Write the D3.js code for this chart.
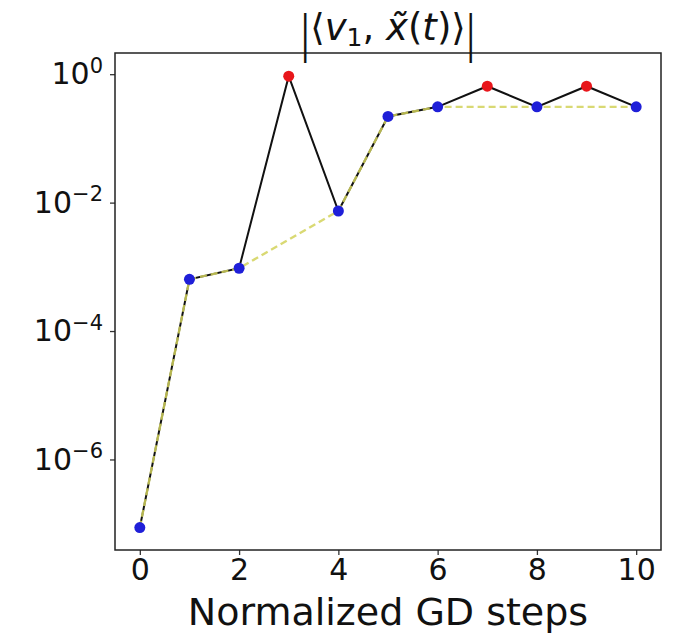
<!DOCTYPE html>
<html>
<head>
<meta charset="utf-8">
<script src="https://cdn.jsdelivr.net/npm/d3@7"></script>
<style>
  body { margin: 0; background: #fff; }
  text { font-family: "DejaVu Sans", sans-serif; fill: #111; }
</style>
</head>
<body>
<svg width="680" height="637"></svg>
<script>
// steps and |<v1, x~(t)>| values
var steps = [0, 1, 2, 3, 4, 5, 6, 7, 8, 9, 10];
var values = [8.7e-8, 6.4e-4, 9.5e-4, 0.93, 7.4e-3, 0.22, 0.31, 0.65, 0.31, 0.65, 0.31];
var markerColors = ["blue", "blue", "blue", "red", "blue", "blue", "blue", "red", "blue", "red", "blue"];
// dashed line goes through the blue points only
var dashedSteps = [0, 1, 2, 4, 5, 6, 8, 10];
var xTicks = [0, 2, 4, 6, 8, 10];
var yTicks = [1e0, 1e-2, 1e-4, 1e-6];

var svg = d3.select("svg"),
    margin = {top: 53, right: 19, bottom: 87, left: 115},
    width = +svg.attr("width") - margin.left - margin.right,
    height = +svg.attr("height") - margin.top - margin.bottom;

var x = d3.scaleLinear().domain([-0.5, 10.5]).range([0, width]);
var y = d3.scaleLog().domain([Math.pow(10, -7.41), Math.pow(10, 0.33)]).range([height, 0]);

var g = svg.append("g")
    .attr("transform", "translate(" + margin.left + "," + margin.top + ")");

// x axis
var xAxis = g.append("g")
    .attr("transform", "translate(0," + height + ")")
    .call(d3.axisBottom(x).tickValues(xTicks).tickSize(5).tickPadding(4).tickFormat(d3.format("d")));
xAxis.selectAll("text").style("font-size", "30px").attr("dy", "0.71em");

// y axis
var yAxis = g.append("g")
    .call(d3.axisLeft(y).tickValues(yTicks).tickSize(5).tickPadding(8).tickFormat(""));
yAxis.selectAll(".tick").each(function (d) {
    var t = d3.select(this).append("text")
        .attr("x", -12)
        .attr("dy", "0.32em")
        .attr("text-anchor", "end")
        .style("font-size", "30px");
    t.append("tspan").text("10");
    var e = Math.round(Math.log10(d));
    t.append("tspan").attr("dy", "-0.55em").style("font-size", "21px")
        .text(e === 0 ? "0" : "\u2212" + Math.abs(e));
});

svg.selectAll(".domain").remove();
svg.selectAll(".tick line").attr("stroke", "#333").attr("stroke-width", 1.3);

// frame
g.append("rect")
    .attr("width", width).attr("height", height)
    .attr("fill", "none").attr("stroke", "#222").attr("stroke-width", 1.5);

// black solid line through all points
var line = d3.line()
    .x(function (d) { return x(d); })
    .y(function (d) { return y(values[d]); });

g.append("path")
    .datum(steps)
    .attr("fill", "none")
    .attr("stroke", "#111")
    .attr("stroke-width", 2)
    .attr("d", line);

// yellow dashed line
g.append("path")
    .datum(dashedSteps)
    .attr("fill", "none")
    .attr("stroke", "rgb(210,210,90)")
    .attr("stroke-opacity", 0.85)
    .attr("stroke-width", 2.4)
    .attr("stroke-dasharray", "7,4")
    .attr("d", line);

g.selectAll(".pt")
    .data(steps)
    .enter().append("circle")
    .attr("class", "pt")
    .attr("cx", function (d) { return x(d); })
    .attr("cy", function (d) { return y(values[d]); })
    .attr("r", 5.5)
    .attr("fill", function (d) { return markerColors[d] === "red" ? "#e8161b" : "#1f1fd8"; });

// x label
svg.append("text")
    .attr("x", margin.left + width / 2)
    .attr("y", 625)
    .attr("text-anchor", "middle")
    .style("font-size", "38px")
    .text("Normalized GD steps");

// title: inner part, then tall thin bars on either side
var cx = margin.left + width / 2;
var title = svg.append("text")
    .attr("x", cx)
    .attr("y", 40)
    .attr("text-anchor", "middle")
    .style("font-size", "37px");
title.append("tspan").text("\u27E8");
title.append("tspan").style("font-style", "italic").text("v");
title.append("tspan").attr("dy", "0.25em").style("font-size", "25px").text("1");
title.append("tspan").attr("dy", "-0.17em").text(", ");
title.append("tspan").style("font-style", "italic").text("x\u0303");
title.append("tspan").text("(");
title.append("tspan").style("font-style", "italic").text("t");
title.append("tspan").text(")\u27E9");

var bb = title.node().getBBox();
[bb.x - 5, bb.x + bb.width + 5].forEach(function (bx) {
    svg.append("text")
        .attr("transform", "translate(" + bx + ",51) scale(0.7,1.25)")
        .attr("text-anchor", "middle")
        .style("font-size", "40px")
        .text("|");
});
</script>
</body>
</html>
